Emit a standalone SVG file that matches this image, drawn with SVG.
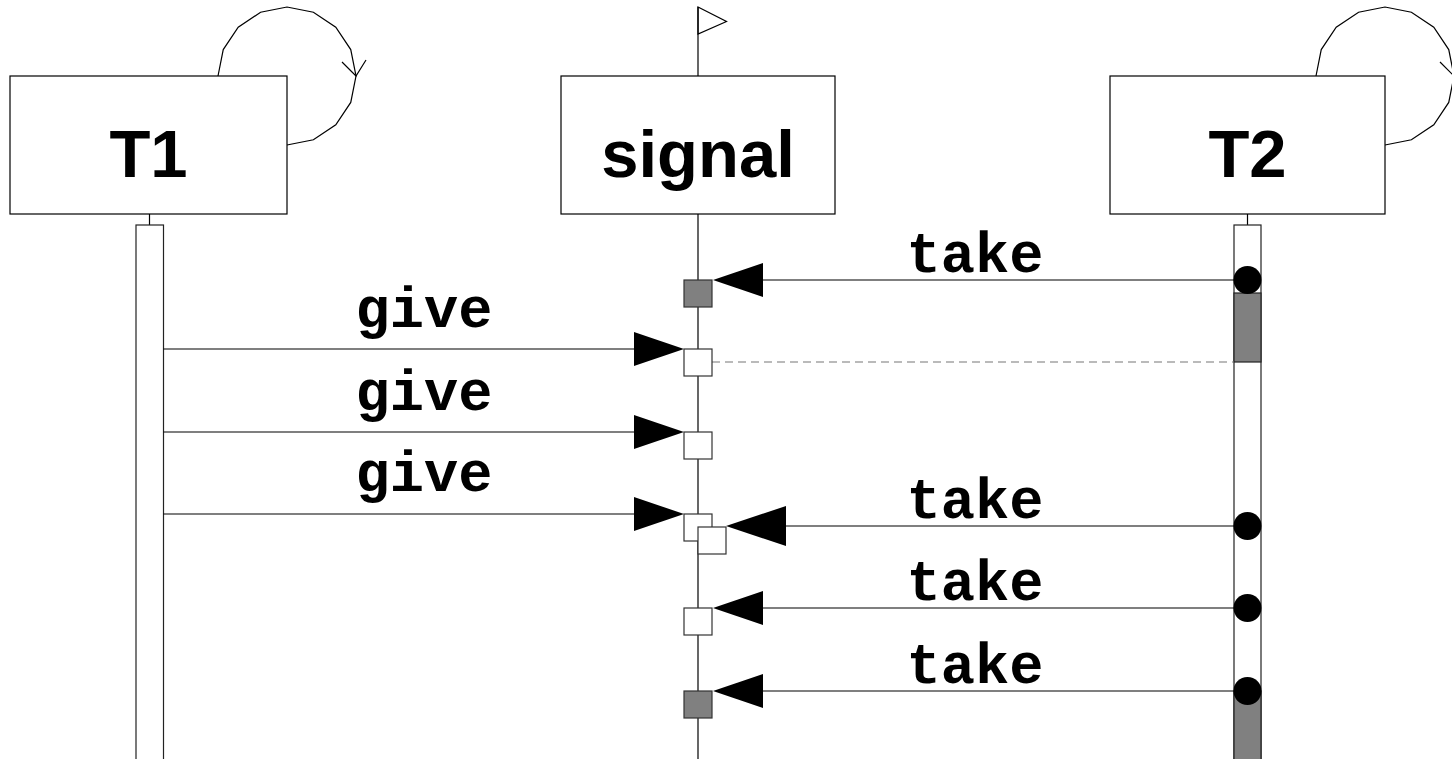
<svg xmlns="http://www.w3.org/2000/svg" width="1452" height="759" viewBox="0 0 1452 759">
<defs>
<style>
.box{fill:#fff;stroke:#000;stroke-width:1.2}
.name{font-family:"Liberation Sans",Arial,sans-serif;font-weight:bold;font-size:67px;text-anchor:middle;fill:#000}
.lbl{font-family:"Liberation Mono","Courier New",monospace;font-weight:bold;font-size:57px;text-anchor:middle;fill:#000}
.ln{stroke:#000;stroke-width:1.2;fill:none}
.act{fill:#fff;stroke:#222;stroke-width:1.2}
.busy{fill:#808080;stroke:#222;stroke-width:1.2}
.sq{fill:#fff;stroke:#333;stroke-width:1.2}
.sqd{fill:#808080;stroke:#333;stroke-width:1.2}
.ah{fill:#000;stroke:none}
.dot{fill:#000}
.dash{stroke:#777;stroke-width:1.2;stroke-dasharray:8,5;fill:none}
</style>
</defs>
<rect width="1452" height="759" fill="#fff"/>
<g id="T1">
<polyline class="ln" points="218,76 223.25,49.59 238.21,27.21 260.59,12.25 287,7 313.41,12.25 335.79,27.21 350.75,49.59 356,76 350.75,102.41 335.79,124.79 313.41,139.75 287,145"/>
<polyline class="ln" points="342,62 356,76 366,60"/>
<rect class="box" x="10" y="76" width="277" height="138"/>
<text class="name" x="148.5" y="177">T1</text>
<line class="ln" x1="149.5" y1="214" x2="149.5" y2="225"/>
<rect class="act" x="136" y="225" width="27.5" height="545"/>
</g>
<g id="signal">
<line class="ln" x1="698" y1="7" x2="698" y2="76"/>
<polygon class="ln" points="698,7 726.5,21.5 698,34"/>
<rect class="box" x="561" y="76" width="274" height="138"/>
<text class="name" x="698" y="177">signal</text>
<line class="ln" x1="698" y1="214" x2="698" y2="770"/>
</g>
<g id="T2">
<polyline class="ln" points="1316,76 1321.25,49.59 1336.21,27.21 1358.59,12.25 1385,7 1411.41,12.25 1433.79,27.21 1448.75,49.59 1454,76 1448.75,102.41 1433.79,124.79 1411.41,139.75 1385,145"/>
<polyline class="ln" points="1440,62 1454,76 1464,60"/>
<rect class="box" x="1110" y="76" width="275" height="138"/>
<text class="name" x="1247.5" y="177">T2</text>
<line class="ln" x1="1247.5" y1="214" x2="1247.5" y2="225"/>
<rect class="act" x="1234" y="225" width="27" height="545"/>
<rect class="busy" x="1234" y="293" width="27" height="69"/>
<rect class="busy" x="1234" y="691" width="27" height="80"/>
</g>
<g id="connectors">
<line class="dash" x1="712" y1="362" x2="1234" y2="362"/>
<!-- take 1 -->
<line class="ln" x1="763" y1="280" x2="1247" y2="280"/>
<polygon class="ah" points="713,280 763,263 763,297"/>
<rect class="sqd" x="684" y="280" width="28" height="27"/>
<circle class="dot" cx="1247.5" cy="280" r="14"/>
<text class="lbl" x="975" y="272">take</text>
<!-- give 1 -->
<line class="ln" x1="163.5" y1="349" x2="634" y2="349"/>
<polygon class="ah" points="684,349 634,332 634,366"/>
<rect class="sq" x="684" y="349" width="28" height="27"/>
<text class="lbl" x="424" y="327">give</text>
<!-- give 2 -->
<line class="ln" x1="163.5" y1="432" x2="634" y2="432"/>
<polygon class="ah" points="684,432 634,415 634,449"/>
<rect class="sq" x="684" y="432" width="28" height="27"/>
<text class="lbl" x="424" y="410">give</text>
<!-- give 3 -->
<line class="ln" x1="163.5" y1="514" x2="634" y2="514"/>
<polygon class="ah" points="684,514 634,497 634,531"/>
<rect class="sq" x="684" y="514" width="28" height="27"/>
<text class="lbl" x="424" y="491">give</text>
<!-- take 2 -->
<line class="ln" x1="776" y1="526" x2="1247" y2="526"/>
<polygon class="ah" points="726,526 786,506 786,546"/>
<rect class="sq" x="698" y="527" width="28" height="27"/>
<circle class="dot" cx="1247.5" cy="526" r="14"/>
<text class="lbl" x="975" y="518">take</text>
<!-- take 3 -->
<line class="ln" x1="763" y1="608" x2="1247" y2="608"/>
<polygon class="ah" points="713,608 763,591 763,625"/>
<rect class="sq" x="684" y="608" width="28" height="27"/>
<circle class="dot" cx="1247.5" cy="608" r="14"/>
<text class="lbl" x="975" y="600">take</text>
<!-- take 4 -->
<line class="ln" x1="763" y1="691" x2="1247" y2="691"/>
<polygon class="ah" points="713,691 763,674 763,708"/>
<rect class="sqd" x="684" y="691" width="28" height="27"/>
<circle class="dot" cx="1247.5" cy="691" r="14"/>
<text class="lbl" x="975" y="683">take</text>
</g>
</svg>
